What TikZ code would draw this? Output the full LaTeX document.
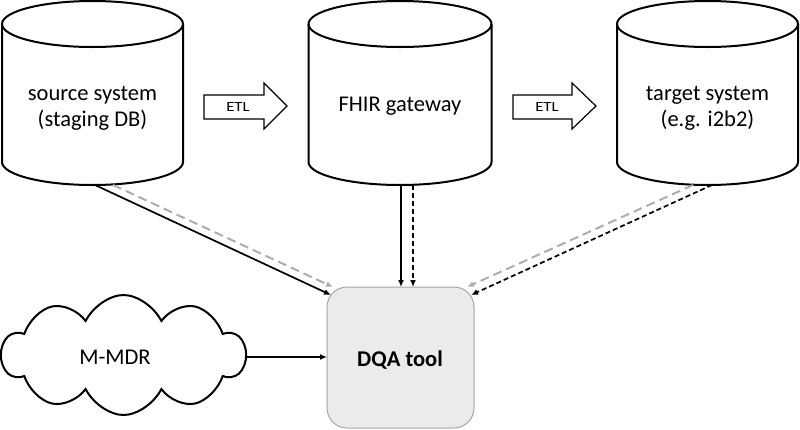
\documentclass[tikz,border=0pt]{standalone}
\usepackage{fontspec}
\setmainfont{Carlito}
\usetikzlibrary{arrows.meta,shapes.symbols}
\tikzset{
  cyl/.style={line width=2pt},
  lbl/.style={font=\fontsize{22.5}{26}\selectfont, align=center, inner sep=0pt},
  etlbox/.style={line width=1.2pt, fill=white, line join=miter},
  etltxt/.style={font=\fontsize{14}{16}\selectfont, inner sep=0pt},
  tip/.style={-{Latex[length=7pt,width=6pt]}},
  solidcon/.style={tip, line width=1.7pt},
  blackdash/.style={tip, line width=1.7pt, dash pattern=on 5pt off 3pt},
  graydash/.style={tip, line width=2pt, draw=black!32, dash pattern=on 9pt off 5pt},
  dqabox/.style={draw=black!35, fill=black!8, line width=1pt, rounded corners=20pt},
}
\newcommand{\mycyl}[3]{% cx, rx, name
  \draw[cyl] (#1,-24) ellipse [x radius=#2, y radius=23];
  \draw[cyl] (#1-#2,-24) -- (#1-#2,-162) arc[start angle=180, end angle=360, x radius=#2, y radius=23] -- (#1+#2,-24);
}
\begin{document}
\begin{tikzpicture}[x=1pt,y=1pt]
\useasboundingbox (0,0) rectangle (800,-429);
% cylinders
\mycyl{92.5}{90.5}{src}
\mycyl{400}{91.5}{fhir}
\mycyl{707.5}{90.5}{tgt}
\node[lbl] (srct) at (92.5,-108) {source system\\(staging DB)};
\node[lbl] (fhirt) at (400,-106) {FHIR gateway};
\node[lbl] (tgtt) at (707.5,-108) {target system\\(e.g. i2b2)};
% ETL arrows
\draw[etlbox] (204,-95) -- (264,-95) -- (264,-83) -- (287,-106) -- (264,-129) -- (264,-119) -- (204,-119) -- cycle;
\node[etltxt, xscale=1.2] (etl1) at (238,-107) {ETL};
\draw[etlbox] (513,-95) -- (572,-95) -- (572,-83) -- (596,-106) -- (572,-129) -- (572,-119) -- (513,-119) -- cycle;
\node[etltxt, xscale=1.2] (etl2) at (547,-107) {ETL};
% DQA tool
\node[dqabox, minimum width=147pt, minimum height=141pt, inner sep=0pt] (dqa) at (400.5,-357.5) {};
\node[font=\fontsize{22.5}{26}\selectfont\bfseries, inner sep=0pt] (dqat) at (400,-360) {DQA tool};
% cloud
\begin{scope}[shift={(123.5,-355)}, yscale=1.25]
\node[cloud, draw, line width=2pt, cloud puffs=10, cloud puff arc=115, cloud ignores aspect, minimum width=243pt, minimum height=96pt, inner sep=0pt, transform shape] (mdr) at (0,0) {};
\end{scope}
\node[font=\fontsize{22.5}{26}\selectfont, inner sep=0pt] (mdrt) at (115,-357) {M-MDR};
% connector endpoints
\coordinate (s1) at (95,-185);
\coordinate (s2) at (113,-185);
\coordinate (f1) at (401,-185);
\coordinate (f2) at (413,-185);
\coordinate (t1) at (693,-185);
\coordinate (t2) at (712,-185);
\coordinate (d1) at (331,-295);
\coordinate (d2) at (333,-287);
\coordinate (d3) at (401,-287);
\coordinate (d4) at (413,-287);
\coordinate (d5) at (467,-287);
\coordinate (d6) at (471,-295);
\coordinate (m1) at (245,-357);
\coordinate (m2) at (327,-357);
% connectors
\draw[graydash] (s2) -- (d2);
\draw[solidcon] (s1) -- (d1);
\draw[solidcon] (f1) -- (d3);
\draw[blackdash] (f2) -- (d4);
\draw[graydash] (t1) -- (d5);
\draw[blackdash] (t2) -- (d6);
\draw[solidcon] (m1) -- (m2);
\end{tikzpicture}
\end{document}
